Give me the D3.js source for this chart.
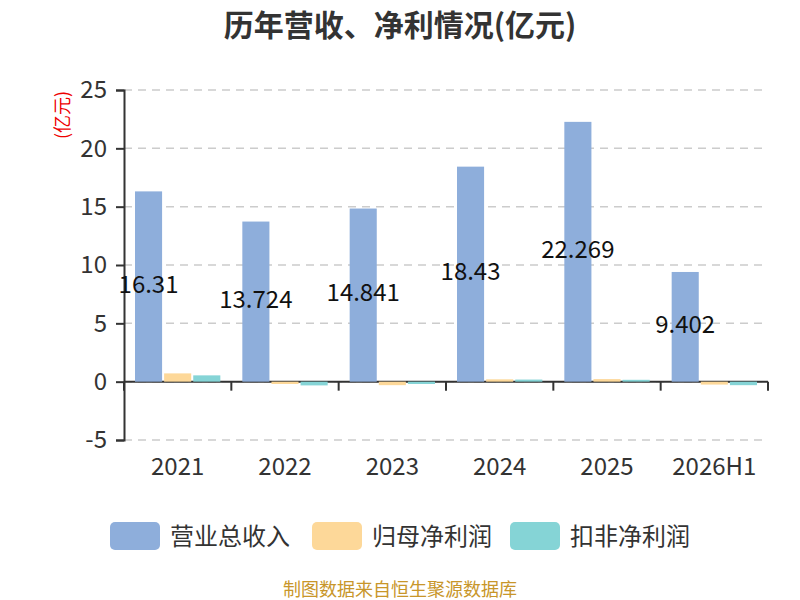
<!DOCTYPE html>
<html><head><meta charset="utf-8">
<script src="https://cdn.jsdelivr.net/npm/d3@7"></script>
<style>body{margin:0;background:#fff}svg{display:block}text{font-family:"Noto Sans CJK SC","Noto Sans",sans-serif}</style>
</head><body>
<svg id="c" width="800" height="600"></svg>
<script>
const categories = ["2021","2022","2023","2024","2025","2026H1"];
const revenue = [16.31, 13.724, 14.841, 18.43, 22.269, 9.402];
const netProfit = [0.71, -0.2, -0.3, 0.2, 0.22, -0.25];
const deductedProfit = [0.54, -0.32, -0.2, 0.18, 0.16, -0.3];
const yTicks = [-5, 0, 5, 10, 15, 20, 25];
const seriesNames = ["营业总收入", "归母净利润", "扣非净利润"];
const colors = ["#8eaedb", "#fdd899", "#85d4d6"];

(function(){
const svg = d3.select("#c");
const pLeft = 124, pRight = 768, pTop = 90, pBottom = 440;
const y = d3.scaleLinear().domain([-5, 25]).range([pBottom, pTop]);
const x = d3.scaleBand().domain(categories).range([pLeft, pRight]);
const inner = d3.scaleBand().domain([0,1,2]).range([11, x.bandwidth()-11]).paddingInner(0.07);

svg.append("text").attr("x", 400).attr("y", 36).attr("text-anchor", "middle")
  .attr("font-size", 30).attr("font-weight", "bold").attr("fill", "#333")
  .text("历年营收、净利情况(亿元)");

// grid
svg.append("g").selectAll("line").data(yTicks).join("line")
  .attr("x1", pLeft).attr("x2", pRight).attr("y1", d => y(d)).attr("y2", d => y(d))
  .attr("stroke", "#ccc").attr("stroke-dasharray", "8,6").attr("stroke-width", 1.5);

// y axis
const ya = svg.append("g").attr("transform", `translate(${pLeft},0)`)
  .call(d3.axisLeft(y).tickValues(yTicks).tickFormat(d => String(d)).tickSize(8).tickPadding(9));
ya.select(".domain").attr("stroke", "#333").attr("stroke-width", 2);
ya.selectAll(".tick line").attr("stroke", "#333").attr("stroke-width", 2);
ya.selectAll(".tick text").attr("font-size", 24).attr("fill", "#333")
  .style("font-family", '"Noto Sans CJK SC","Noto Sans",sans-serif');

svg.append("text").attr("transform", `translate(69,115) rotate(-90)`).attr("text-anchor", "middle")
  .attr("font-size", 18).attr("fill", "#e00").text("(亿元)");

// x axis at 0
svg.append("line").attr("x1", pLeft).attr("x2", pRight).attr("y1", y(0)).attr("y2", y(0))
  .attr("stroke", "#333").attr("stroke-width", 2);
const bounds = categories.map(c => x(c)).concat([pRight]);
svg.append("g").selectAll("line").data(bounds).join("line")
  .attr("x1", d => d).attr("x2", d => d).attr("y1", y(0)).attr("y2", y(0) + 9)
  .attr("stroke", "#333").attr("stroke-width", 2);
svg.append("g").selectAll("text").data(categories).join("text")
  .attr("x", d => x(d) + x.bandwidth()/2).attr("y", 475).attr("text-anchor", "middle")
  .attr("font-size", 24).attr("fill", "#333").text(d => d);

// bars (drawn over the zero line)
const all = [revenue, netProfit, deductedProfit];
all.forEach((vals, si) => {
  svg.append("g").selectAll("rect").data(vals).join("rect")
    .attr("x", (d, i) => x(categories[i]) + inner(si))
    .attr("width", inner.bandwidth())
    .attr("y", d => Math.min(y(d), y(0)))
    .attr("height", d => Math.abs(y(d) - y(0)))
    .attr("fill", colors[si]);
});

// labels
svg.append("g").selectAll("text").data(revenue).join("text")
  .attr("x", (d, i) => x(categories[i]) + inner(0) + inner.bandwidth()/2)
  .attr("y", d => (y(d) + y(0)) / 2 + 6).attr("text-anchor", "middle")
  .attr("font-size", 24).attr("fill", "#111").text(d => d);

// legend
const legX = [110, 312, 510];
const lg = svg.append("g");
seriesNames.forEach((n, i) => {
  lg.append("rect").attr("x", legX[i]).attr("y", 522).attr("width", 50).attr("height", 28)
    .attr("rx", 5).attr("fill", colors[i]);
  lg.append("text").attr("x", legX[i] + 60).attr("y", 545).attr("font-size", 24)
    .attr("fill", "#333").text(n);
});

svg.append("text").attr("x", 400).attr("y", 596).attr("text-anchor", "middle")
  .attr("font-size", 18).attr("fill", "#c8962a").text("制图数据来自恒生聚源数据库");
})();
</script>
</body></html>
